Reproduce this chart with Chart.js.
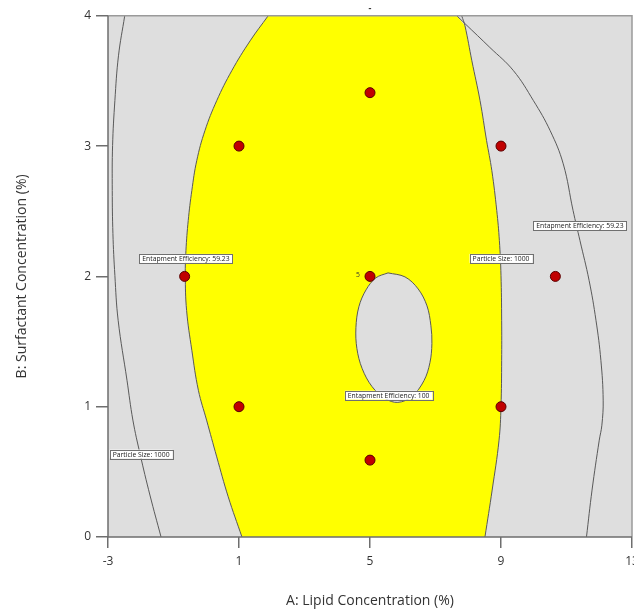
<!DOCTYPE html>
<html>
<head>
<meta charset="utf-8">
<script src="https://cdn.jsdelivr.net/npm/chart.js@4.4.1/dist/chart.umd.min.js"></script>
<style>
  html, body { margin: 0; padding: 0; background: #fff; overflow: hidden; }
</style>
</head>
<body>
<!-- canvas is a few px wider than the page so the last x tick label gets cut like the original -->
<canvas id="overlayChart" width="638" height="609"></canvas>
<script>
// Overlay plot: lipid vs surfactant concentration

const xTicks = [-3, 1, 5, 9, 13];
const yTicks = [0, 1, 2, 3, 4];

// design points (A: lipid %, B: surfactant %)
const designA = [5, 1, 9, -0.66, 5, 10.66, 1, 9, 5];
const designB = [3.41, 3, 3, 2, 2, 2, 1, 1, 0.59];

// Entrapment Efficiency = 59.23, left branch (top -> bottom)
const eeLeft = [
    [1.89, 4.0], [1.34, 3.808], [0.78, 3.579], [0.32, 3.349], [-0.04, 3.119],
    [-0.29, 2.889], [-0.44, 2.659], [-0.55, 2.429], [-0.62, 2.199], [-0.64, 2.008],
    [-0.60, 1.739], [-0.44, 1.433], [-0.24, 1.126], [0.01, 0.897], [0.32, 0.615],
    [0.67, 0.309], [1.09, 0.0]
];

// Entrapment Efficiency = 59.23, right branch (top -> bottom)
const eeRight = [
    [7.65, 4.0], [7.90, 3.940], [8.66, 3.757], [9.38, 3.579], [9.99, 3.349],
    [10.50, 3.119], [10.90, 2.864], [11.20, 2.506], [11.41, 2.276], [11.69, 1.969],
    [11.90, 1.663], [12.05, 1.356], [12.12, 1.050], [12.08, 0.858], [12.00, 0.743],
    [11.78, 0.360], [11.61, 0.0]
];

// Particle Size = 1000, left branch
const psLeft = [
    [-2.49, 4.0], [-2.68, 3.693], [-2.79, 3.349], [-2.86, 3.004], [-2.87, 2.659],
    [-2.85, 2.330], [-2.79, 2.008], [-2.69, 1.663], [-2.42, 1.203], [-2.24, 0.897],
    [-2.02, 0.636], [-1.72, 0.322], [-1.38, 0.0]
];

// Particle Size = 1000, right branch
const psRight = [
    [7.80, 4.0], [7.90, 3.923], [8.11, 3.655], [8.36, 3.349], [8.56, 3.042],
    [8.72, 2.812], [8.87, 2.506], [8.95, 2.276], [9.00, 2.008], [9.02, 1.663],
    [9.02, 1.356], [9.00, 1.004], [8.94, 0.743], [8.73, 0.360], [8.51, 0.0]
];

// Entrapment Efficiency = 100 (closed loop)
const ee100 = [
    [5.55, 2.027], [6.07, 1.996], [6.47, 1.904], [6.74, 1.774], [6.86, 1.621],
    [6.89, 1.484], [6.83, 1.338], [6.65, 1.201], [6.28, 1.078], [5.85, 1.033],
    [5.46, 1.063], [5.06, 1.155], [4.76, 1.293], [4.60, 1.446], [4.57, 1.606],
    [4.66, 1.767], [4.88, 1.897], [5.18, 1.989], [5.55, 2.027]
];

const contourLabels = [
    { text: 'Entapment Efficiency: 59.23', x: -0.62, y: 2.138 },
    { text: 'Entapment Efficiency: 59.23', x: 11.41, y: 2.387 },
    { text: 'Particle Size: 1000', x: 9.0, y: 2.138 },
    { text: 'Entapment Efficiency: 100', x: 5.57, y: 1.088 },
    { text: 'Particle Size: 1000', x: -1.99, y: 0.636 }
];
const replicateLabel = { text: '5', x: 4.63, y: 2.008 };

const COLORS = {
    plot: '#dedede',
    region: '#ffff00',
    contour: '#595959',
    point: '#c00000',
    pointEdge: '#5a0000',
    text: '#333333'
};

const CURVE_TENSION = 0.4;

const toPts = arr => arr.map(([x, y]) => ({ x, y }));
const last = arr => arr[arr.length - 1];

// feasible (yellow) region: EE left branch, bottom edge, PS right branch up, EE right corner.
// corner points are repeated so the smoothed outline keeps sharp corners
const corner = psRight[1];
const regionPts = [
    ...eeLeft, last(eeLeft),
    last(psRight), ...psRight.slice(1).reverse(),
    corner, eeRight[0], eeRight[0]
];

const contourLine = (data) => ({
    data: toPts(data),
    borderColor: COLORS.contour,
    borderWidth: 1,
    pointRadius: 0,
    tension: CURVE_TENSION,
    fill: false,
    order: 3
});

const plotFrame = {
    id: 'plotFrame',
    beforeDraw(chart) {
        const { ctx, chartArea: a } = chart;
        ctx.save();
        ctx.fillStyle = COLORS.plot;
        ctx.fillRect(a.left, a.top, a.width, a.height);
        ctx.restore();
    },
    afterDatasetsDraw(chart) {
        const { ctx, chartArea: a } = chart;
        ctx.save();
        ctx.lineWidth = 1.5;
        ctx.strokeStyle = '#9a9a9a';
        ctx.beginPath();
        ctx.moveTo(a.left, a.top);
        ctx.lineTo(a.right, a.top);
        ctx.lineTo(a.right, a.bottom);
        ctx.stroke();
        ctx.strokeStyle = '#6e6e6e';
        ctx.beginPath();
        ctx.moveTo(a.left, a.top);
        ctx.lineTo(a.left, a.bottom);
        ctx.lineTo(a.right, a.bottom);
        ctx.stroke();
        ctx.restore();
    }
};

const labelPlugin = {
    id: 'contourLabels',
    afterDatasetsDraw(chart) {
        const { ctx, scales: { x, y } } = chart;
        ctx.save();
        ctx.font = '6.8px "Open Sans", sans-serif';
        ctx.textAlign = 'center';
        ctx.textBaseline = 'middle';
        contourLabels.forEach(l => {
            const px = x.getPixelForValue(l.x);
            const py = y.getPixelForValue(l.y);
            const w = ctx.measureText(l.text).width + 6;
            const h = 9;
            ctx.fillStyle = '#ffffff';
            ctx.fillRect(px - w / 2, py - h / 2, w, h);
            ctx.strokeStyle = '#707070';
            ctx.lineWidth = 1;
            ctx.strokeRect(Math.round(px - w / 2) + 0.5, Math.round(py - h / 2) + 0.5, Math.round(w), h);
            ctx.fillStyle = '#222';
            ctx.fillText(l.text, px, py + 0.5);
        });
        ctx.fillStyle = COLORS.text;
        ctx.fillText(replicateLabel.text, x.getPixelForValue(replicateLabel.x), y.getPixelForValue(replicateLabel.y));
        ctx.restore();
    }
};

const ctx = document.getElementById('overlayChart').getContext('2d');

new Chart(ctx, {
    type: 'line',
    data: {
        datasets: [
            {
                label: 'Design points',
                data: designA.map((a, i) => ({ x: a, y: designB[i] })),
                showLine: false,
                pointRadius: 5,
                pointBackgroundColor: COLORS.point,
                pointBorderColor: COLORS.pointEdge,
                pointBorderWidth: 1,
                order: 0
            },
            {
                label: 'Entrapment Efficiency 100',
                data: toPts(ee100),
                fill: 'shape',
                backgroundColor: COLORS.plot,
                borderColor: COLORS.contour,
                borderWidth: 1,
                pointRadius: 0,
                tension: 0.35,
                order: 1
            },
            contourLine(eeLeft),
            contourLine(eeRight),
            contourLine(psLeft),
            contourLine(psRight),
            {
                label: 'Overlay region',
                data: toPts(regionPts),
                fill: 'shape',
                backgroundColor: COLORS.region,
                borderWidth: 0,
                pointRadius: 0,
                tension: CURVE_TENSION,
                order: 6
            }
        ]
    },
    options: {
        responsive: false,
        animation: false,
        plugins: {
            legend: { display: false },
            tooltip: { enabled: false },
            title: {
                display: true,
                fullSize: false,
                text: '-',
                color: COLORS.text,
                font: { family: 'Open Sans', size: 9, weight: 'bold' },
                padding: { top: 3, bottom: 2 }
            }
        },
        scales: {
            x: {
                type: 'linear',
                min: -3,
                max: 13,
                afterBuildTicks: s => { s.ticks = xTicks.map(v => ({ value: v })); },
                afterFit: s => { s.paddingRight = 0; s.height = 72; },
                border: { display: false },
                grid: { drawOnChartArea: false, tickLength: 11, color: '#6e6e6e', lineWidth: 1.5 },
                ticks: { color: COLORS.text, font: { family: 'Open Sans', size: 12 }, padding: 6, maxRotation: 0 },
                title: {
                    display: true,
                    text: 'A: Lipid Concentration (%)',
                    color: COLORS.text,
                    font: { family: 'Open Sans', size: 14 },
                    padding: { top: 0, bottom: 0 }
                }
            },
            y: {
                type: 'linear',
                min: 0,
                max: 4,
                afterBuildTicks: s => { s.ticks = yTicks.map(v => ({ value: v })); },
                afterFit: s => { s.width = 108; },
                border: { display: false },
                grid: { drawOnChartArea: false, tickLength: 12, color: '#6e6e6e', lineWidth: 1.5 },
                ticks: { color: COLORS.text, font: { family: 'Open Sans', size: 12 }, padding: 5 },
                title: {
                    display: true,
                    text: 'B: Surfactant Concentration (%)',
                    color: COLORS.text,
                    font: { family: 'Open Sans', size: 14 },
                    padding: { top: 14, bottom: 0 }
                }
            }
        }
    },
    plugins: [plotFrame, labelPlugin]
});
</script>
</body>
</html>
